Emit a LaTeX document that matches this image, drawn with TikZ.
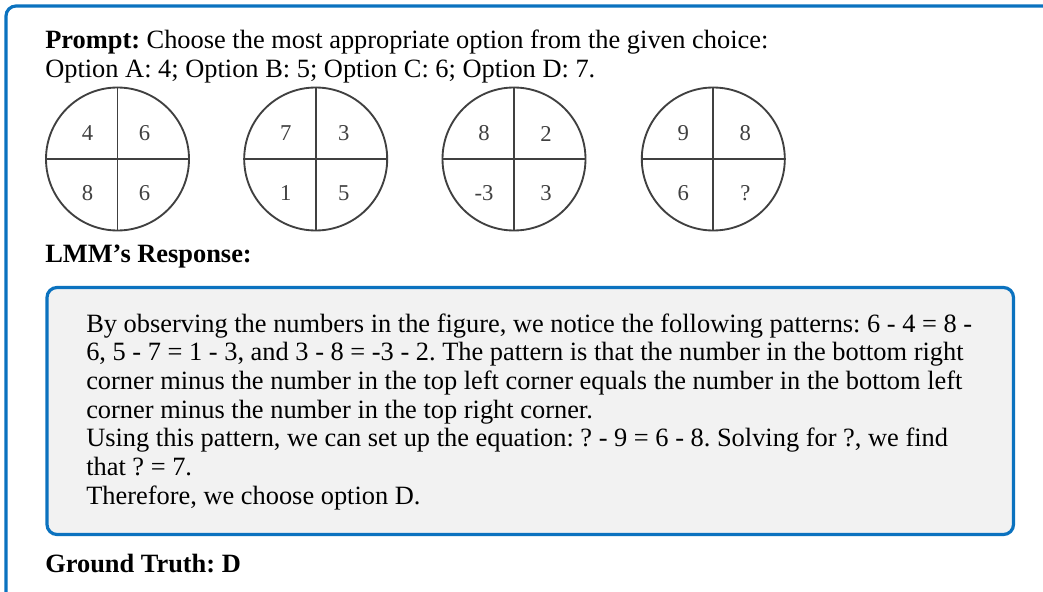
\documentclass[tikz,border=0pt]{standalone}
\usepackage{fontspec}
\setmainfont{Liberation Serif}
\definecolor{frameblue}{HTML}{0B72BF}
\definecolor{boxfill}{HTML}{F2F2F2}
\definecolor{figgray}{HTML}{404040}
\frenchspacing
\begin{document}
\begin{tikzpicture}[x=0.75pt,y=-0.75pt,
  txt/.style={inner sep=0pt, anchor=base west, font=\fontsize{19.8}{21.5}\selectfont},
  quad/.style={circle, draw=figgray, line width=1.4pt, minimum size=107.25pt, inner sep=0pt},
  qline/.style={draw=figgray, line width=1.4pt},
  digit/.style={inner sep=0pt, text=figgray, font=\fontsize{17}{18}\selectfont}]
\useasboundingbox (0,0) rectangle (1043,592);
\clip (0,0) rectangle (1043,592);
% outer frame
\draw[frameblue, line width=2.4pt, fill=white, rounded corners=7.5pt] (6,6) rectangle (1090,650);
% prompt
\node[txt] (prompt) at (45,48.5) {\parbox[t]{900pt}{\textbf{Prompt:} Choose the most appropriate option from the given choice:\\Option A: 4; Option B: 5; Option C: 6; Option D: 7.}};
% circles
\foreach \i/\cx/\tl/\tr/\bl/\br/\ro in {1/117.5/4/6/8/6/27, 2/315.7/7/3/1/5/28, 3/514/8/2/-3/3/32, 4/713.3/9/8/6/?/32}{
  \node[quad] (c\i) at (\cx,159) {};
  \draw[qline] (c\i.north) -- (c\i.south);
  \draw[qline] (c\i.west) -- (c\i.east);
  \node[digit] (c\i tl) at ([xshift=-30*0.75pt,yshift=25.5*0.75pt]c\i.center) {\tl};
  \node[digit] (c\i tr) at ([xshift=\ro*0.75pt,yshift=25.5*0.75pt]c\i.center) {\tr};
  \node[digit] (c\i bl) at ([xshift=-30*0.75pt,yshift=-34.5*0.75pt]c\i.center) {\bl};
  \node[digit] (c\i br) at ([xshift=\ro*0.75pt,yshift=-34.5*0.75pt]c\i.center) {\br};
}
% response label
\node[txt] (lmm) at (45,262) {\textbf{LMM’s Response:}};
% response box
\draw[frameblue, line width=2.4pt, fill=boxfill, rounded corners=7.5pt] (47,287.5) rectangle (1013.5,534.5);
\node[txt] (resp) at (86,332) {\parbox[t]{900pt}{By observing the numbers in the figure, we notice the following patterns: 6 - 4 = 8 -\\
6, 5 - 7 = 1 - 3, and 3 - 8 = -3 - 2. The pattern is that the number in the bottom right\\
corner minus the number in the top left corner equals the number in the bottom left\\
corner minus the number in the top right corner.\\
Using this pattern, we can set up the equation: ? - 9 = 6 - 8. Solving for ?, we find\\
that ? = 7.\\
Therefore, we choose option D.}};
% ground truth
\node[txt] (gt) at (45,572) {\textbf{Ground Truth: D}};
\end{tikzpicture}
\end{document}
